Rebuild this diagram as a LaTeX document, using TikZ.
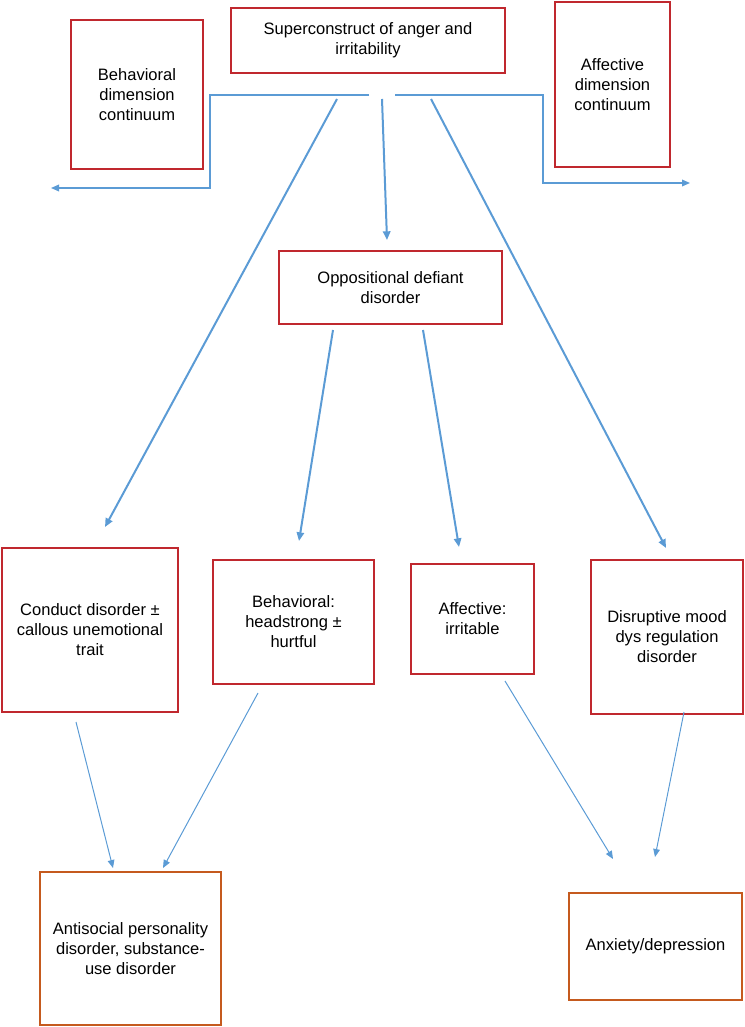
\documentclass[tikz,border=0pt]{standalone}
\usepackage{fontspec}
\setmainfont{Liberation Sans}
\usetikzlibrary{arrows.meta}
\definecolor{boxred}{RGB}{192,40,46}
\definecolor{boxorange}{RGB}{197,90,30}
\definecolor{linkblue}{RGB}{91,155,213}
\tikzset{
  redbox/.style={draw=boxred, line width=1.5pt, fill=white, align=center, inner sep=0pt,
    font=\fontsize{12.4}{15}\selectfont},
  orangebox/.style={draw=boxorange, line width=1.5pt, fill=white, align=center, inner sep=0pt,
    font=\fontsize{12.4}{15}\selectfont},
  bw/.style={minimum width={#1*0.75pt}},
  bh/.style={minimum height={#1*0.75pt}},
  thicklink/.style={draw=linkblue, line width=1.5pt, -{Triangle[length=6.5pt,width=5.5pt]}},
  thinlink/.style={draw=linkblue, line width=0.75pt, -{Triangle[length=6pt,width=5pt]}},
  bracketlink/.style={draw=linkblue, line width=0.9pt, -{Triangle[length=6pt,width=5pt]}},
}
\begin{document}
\begin{tikzpicture}[x=0.75pt,y=-0.75pt]
\useasboundingbox (0,0) rectangle (745,1027);
% boxes
\node[redbox, bw=274, bh=65] (super) at (368,40.5)
  {Superconstruct of anger and\\irritability};
\node[redbox, bw=132, bh=149] (behdim) at (137,94.5)
  {Behavioral\\dimension\\continuum};
\node[redbox, bw=115, bh=165] (affdim) at (612.5,84.5)
  {Affective\\dimension\\continuum};
\node[redbox, bw=223, bh=73] (odd) at (390.5,287.5)
  {Oppositional defiant\\disorder};
\node[redbox, bw=176, bh=164] (conduct) at (90,630)
  {Conduct disorder \char"00B1\\callous unemotional\\trait};
\node[redbox, bw=161, bh=124] (behav) at (293.5,622)
  {Behavioral:\\headstrong \char"00B1\\hurtful};
\node[redbox, bw=123, bh=110] (affect) at (472.5,619)
  {Affective:\\irritable};
\node[redbox, bw=152, bh=154] (disrupt) at (667,637)
  {Disruptive mood\\dys regulation\\disorder};
\node[orangebox, bw=181, bh=153] (antisocial) at (130.5,948.5)
  {Antisocial personality\\disorder, substance-\\use disorder};
\node[orangebox, bw=173, bh=107] (anxiety) at (655.5,946.5)
  {Anxiety/depression};
% connector end points
\coordinate (hubL) at (369,95);
\coordinate (cornL1) at (210,95);
\coordinate (cornL2) at (210,188);
\coordinate (endL) at (51,188);
\coordinate (hubR) at (395,95);
\coordinate (cornR1) at (543,95);
\coordinate (cornR2) at (543,183);
\coordinate (endR) at (690,183);
\coordinate (s1) at (337,99);
\coordinate (s2) at (382,99);
\coordinate (s3) at (431,99);
\coordinate (t1) at (105,527);
\coordinate (t2) at (387,240);
\coordinate (t3) at (666,548);
\coordinate (o1) at (333,330);
\coordinate (o2) at (423,330);
\coordinate (t4) at (299,541);
\coordinate (t5) at (459,547);
\coordinate (c1) at (76,722);
\coordinate (b1) at (258,693);
\coordinate (a1) at (505,681);
\coordinate (d1) at (684,712);
\coordinate (e1) at (113,868);
\coordinate (e2) at (163,868);
\coordinate (e3) at (613,859);
\coordinate (e4) at (655,857);
% connectors
\draw[bracketlink] (hubL) -- (cornL1) -- (cornL2) -- (endL);
\draw[bracketlink] (hubR) -- (cornR1) -- (cornR2) -- (endR);
\draw[thicklink] (s1) -- (t1);
\draw[thicklink] (s2) -- (t2);
\draw[thicklink] (s3) -- (t3);
\draw[thicklink] (o1) -- (t4);
\draw[thicklink] (o2) -- (t5);
\draw[thinlink] (c1) -- (e1);
\draw[thinlink] (b1) -- (e2);
\draw[thinlink] (a1) -- (e3);
\draw[thinlink] (d1) -- (e4);
\end{tikzpicture}
\end{document}
